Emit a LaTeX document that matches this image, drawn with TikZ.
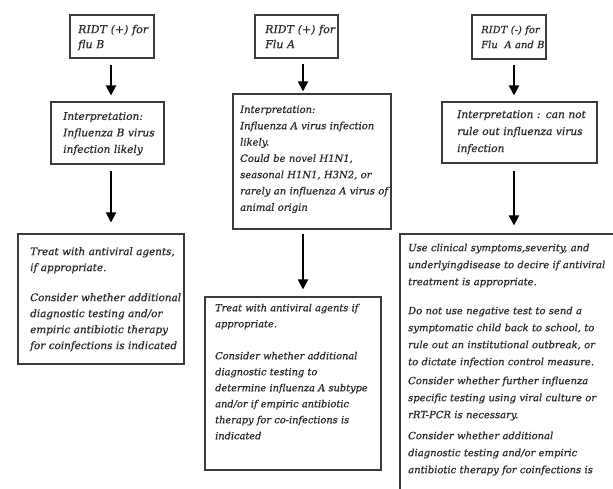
\documentclass[tikz,border=0pt]{standalone}
\usepackage{fontspec}
\setmainfont{DejaVu Serif}[FakeBold=0.6]
\usetikzlibrary{arrows.meta}
\definecolor{ink}{HTML}{2A2A2A}
\definecolor{frame}{HTML}{3A3A3A}
\tikzset{
  box/.style={draw=frame, line width=1.1pt, inner sep=0pt, fill=white},
  txt/.style={anchor=north west, inner sep=0pt, text width=260pt, align=left, text=ink},
  arr/.style={draw=black, line width=2pt, -{Triangle[width=10pt,length=10pt]}},
}
\newcommand{\fs}[2]{\fontsize{#1}{#2}\selectfont\itshape}
\begin{document}
\begin{tikzpicture}[x=1pt,y=-1pt]
\useasboundingbox (0,0) rectangle (613,488);
\clip (0,0) rectangle (613,488);
\fill[white] (0,0) rectangle (613,488);

% column coordinates for the arrows
\coordinate (ax1) at (111,0);
\coordinate (ax2) at (303,0);
\coordinate (ax3) at (514,0);

% boxes
\node[box, minimum width=84pt, minimum height=43pt] (B11) at (112,36.5) {};
\node[box, minimum width=83pt, minimum height=43pt] (B21) at (296.5,36.5) {};
\node[box, minimum width=74pt, minimum height=44pt] (B31) at (509,37) {};
\node[box, minimum width=113pt, minimum height=62pt] (B12) at (107.5,133) {};
\node[box, minimum width=158pt, minimum height=135pt] (B22) at (312,161.5) {};
\node[box, minimum width=155pt, minimum height=61pt] (B32) at (519.5,132.5) {};
\node[box, minimum width=166pt, minimum height=130pt] (B13) at (101,299) {};
\node[box, minimum width=176pt, minimum height=173pt] (B23) at (293,383.5) {};
\node[box, minimum width=230pt, minimum height=286pt] (B33) at (515,377) {};

% texts
\node[txt, font=\fs{11}{15}] (T11) at (78,24.6) {RIDT (+) for\\flu B};
\node[txt, font=\fs{11}{15}] (T21) at (265,24.6) {RIDT (+) for\\Flu A};
\node[txt, font=\fs{10}{15}] (T31) at (481,25.4) {RIDT (-) for\\Flu\ \ A and B};
\node[txt, font=\fs{10.6}{16.5}] (T12) at (63,111.9) {Interpretation:\\Influenza B virus\\infection likely};
\node[txt, font=\fs{10}{16.3}] (T22) at (240,105.4) {Interpretation:\\Influenza A virus infection\\likely.\\Could be novel H1N1,\\seasonal H1N1, H3N2, or\\rarely an influenza A virus of\\animal origin};
\node[txt, font=\fs{10.6}{17}] (T32) at (457,110) {Interpretation : can not\\rule out influenza virus\\infection};
\node[txt, font=\fs{10.4}{16}] (T13) at (30,247) {Treat with antiviral agents,\\if appropriate.\\[14pt]Consider whether additional\\diagnostic testing and/or\\empiric antibiotic therapy\\for coinfections is indicated};
\node[txt, font=\fs{9.8}{16}] (T23) at (215,303.6) {Treat with antiviral agents if\\appropriate.\\[16pt]Consider whether additional\\diagnostic testing to\\determine influenza A subtype\\and/or if empiric antibiotic\\therapy for co-infections is\\indicated};
\node[txt, font=\fs{10}{17}] (T33) at (408,243.4) {Use clinical symptoms,severity, and\\underlyingdisease to decire if antiviral\\treatment is appropriate.\\[12pt]Do not use negative test to send a\\symptomatic child back to school, to\\rule out an institutional outbreak, or\\to dictate infection control measure.\\[2pt]Consider whether further influenza\\specific testing using viral culture or\\rRT-PCR is necessary.\\[4pt]Consider whether additional\\diagnostic testing and/or empiric\\antibiotic therapy for coinfections is};

% arrows
\draw[arr, shorten <=6pt, shorten >=6pt] (B11.south -| ax1) -- (B12.north -| ax1);
\draw[arr, shorten <=6pt, shorten >=11pt] (B12.south -| ax1) -- (B13.north -| ax1);
\draw[arr, shorten <=5pt, shorten >=2pt] (B21.south -| ax2) -- (B22.north -| ax2);
\draw[arr, shorten <=4pt, shorten >=7pt] (B22.south -| ax2) -- (B23.north -| ax2);
\draw[arr, shorten <=5pt, shorten >=6pt] (B31.south -| ax3) -- (B32.north -| ax3);
\draw[arr, shorten <=7pt, shorten >=8pt] (B32.south -| ax3) -- (B33.north -| ax3);
\end{tikzpicture}
\end{document}
